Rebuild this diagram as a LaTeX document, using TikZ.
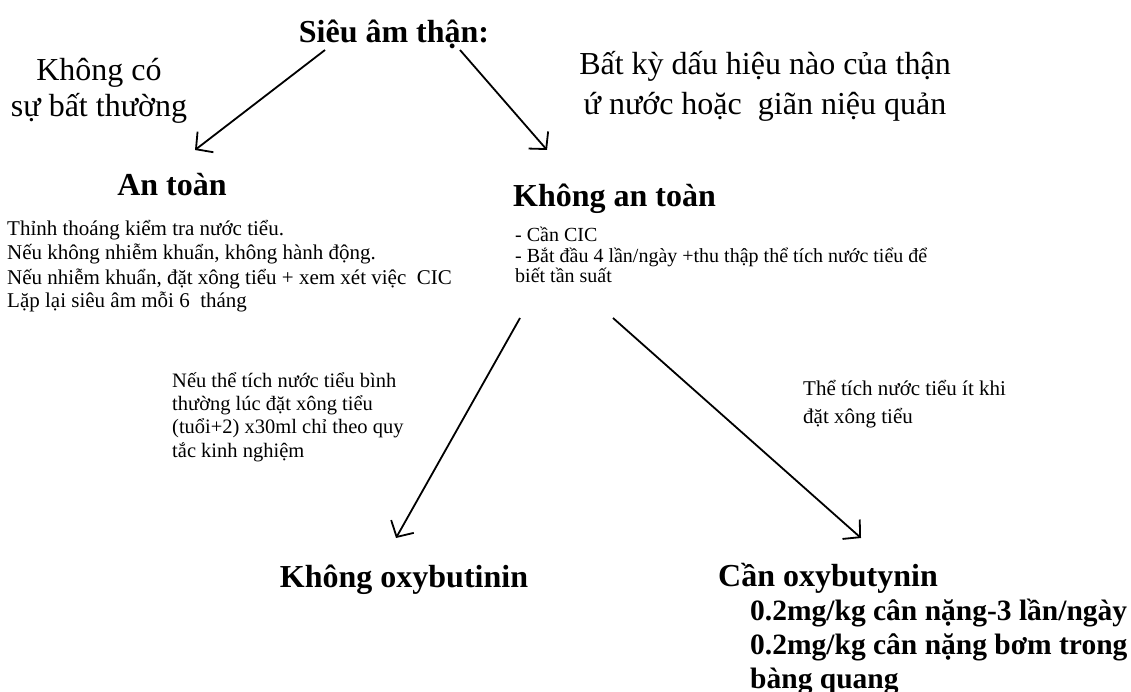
\documentclass[tikz,border=0pt]{standalone}
\usepackage{fontspec}
\setmainfont{Liberation Serif}
\usetikzlibrary{arrows.meta}

\tikzset{
  big/.style={font=\fontsize{32}{36}\selectfont\bfseries, inner sep=0pt, anchor=base},
  mid/.style={font=\fontsize{32}{36}\selectfont, inner sep=0pt, align=center, anchor=base},
  small/.style={font=\fontsize{21}{24}\selectfont, inner sep=0pt, align=left, anchor=base west},
  dose/.style={font=\fontsize{29.5}{34}\selectfont\bfseries, inner sep=0pt, align=left, anchor=base west},
  arr/.style={line width=1.8pt, -{Straight Barb[length=12pt,width=26pt,line width=1.8pt]}}
}

\begin{document}
\begin{tikzpicture}[x=1pt,y=-1pt]
        \useasboundingbox (0,0) rectangle (1131,692);

        % Top (multi-line nodes sit on their last baseline)
        \node[big] (us) at (394,43) {Siêu âm thận:};
        \node[mid] (nolab) at (99,117) {Không có\\sự bất thường};
        \node[mid, font=\fontsize{32}{40}\selectfont] (anylab) at (765,115) {Bất kỳ dấu hiệu nào của thận\\ứ nước hoặc \ giãn niệu quản};

        % Safe branch
        \node[big] (safe) at (172,196) {An toàn};
        \node[small] (safetxt) at (7,308) {Thỉnh thoáng kiểm tra nước tiểu.\\Nếu không nhiễm khuẩn, không hành động.\\Nếu nhiễm khuẩn, đặt xông tiểu + xem xét việc \ CIC\\Lặp lại siêu âm mỗi 6 \ tháng};

        % Unsafe branch
        \node[big, anchor=base west] (unsafe) at (513,207) {Không an toàn};
        \node[small, font=\fontsize{20}{20.5}\selectfont] (unsafetxt) at (515,283) {- Cần CIC\\- Bắt đầu 4 lần/ngày +thu thập thể tích nước tiểu để\\biết tần suất};

        % Conditions
        \node[small, font=\fontsize{20.5}{23.3}\selectfont] (normlab) at (172,457) {Nếu thể tích nước tiểu bình\\thường lúc đặt xông tiểu\\(tuổi+2) x30ml chỉ theo quy\\tắc kinh nghiệm};
        \node[small, font=\fontsize{21}{28}\selectfont] (lowlab) at (803,423) {Thể tích nước tiểu ít khi\\đặt xông tiểu};

        % Results
        \node[big] (nooxy) at (404,587) {Không oxybutinin};
        \node[big, anchor=base west] (oxy) at (718,586) {Cần oxybutynin};
        \node[dose] (dosetxt) at (750,688) {0.2mg/kg cân nặng-3 lần/ngày\\0.2mg/kg cân nặng bơm trong\\bàng quang};

        % Arrow ends
        \coordinate (s1) at (325,50);  \coordinate (e1) at (195,150);
        \coordinate (s2) at (460,50);  \coordinate (e2) at (547,150);
        \coordinate (s3) at (520,318); \coordinate (e3) at (396,538);
        \coordinate (s4) at (613,318); \coordinate (e4) at (861,538);

        \draw[arr] (s1) -- (e1);
        \draw[arr] (s2) -- (e2);
        \draw[arr] (s3) -- (e3);
        \draw[arr] (s4) -- (e4);

\end{tikzpicture}
\end{document}
